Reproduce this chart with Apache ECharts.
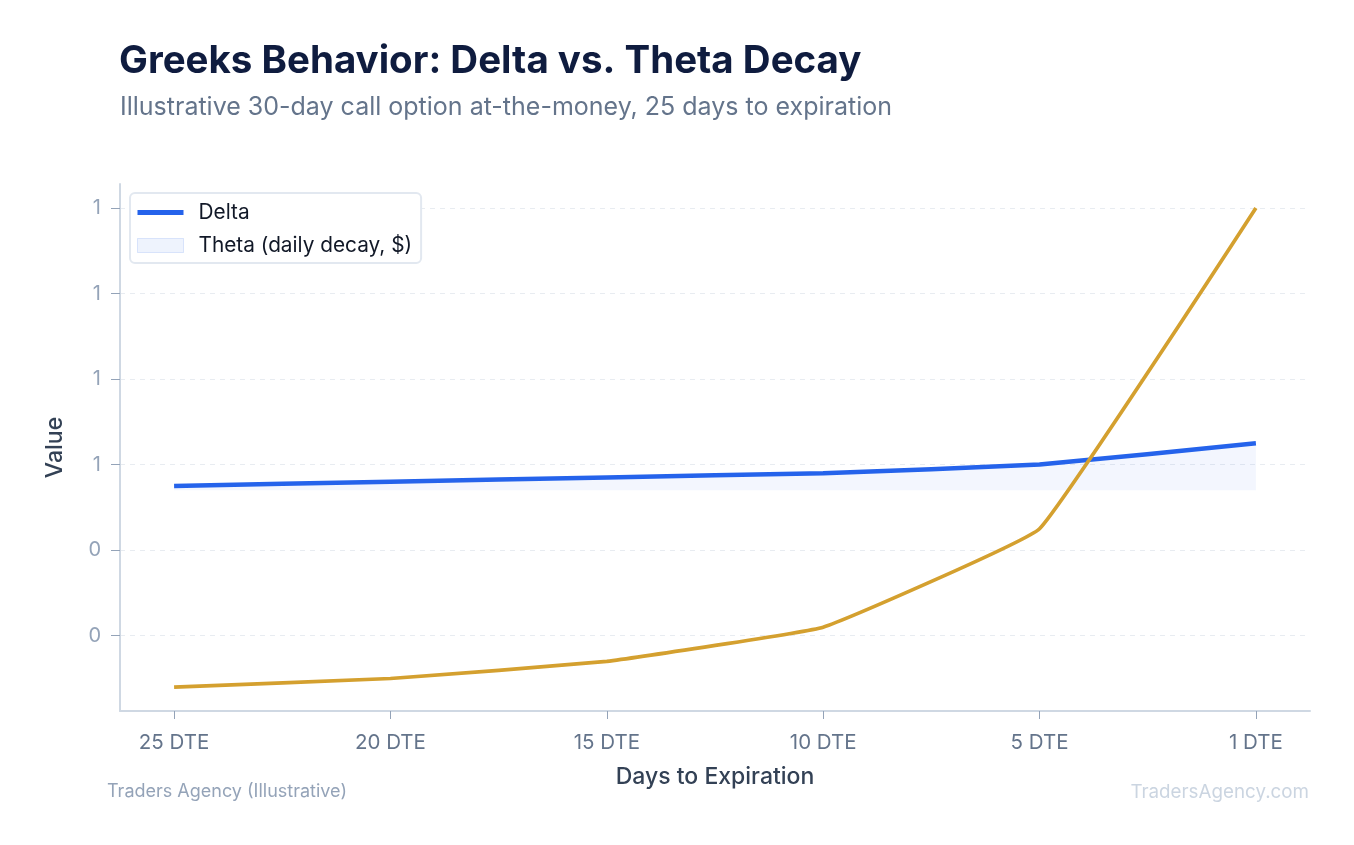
<!DOCTYPE html>
<html>
<head>
<meta charset="utf-8">
<script src="https://cdn.jsdelivr.net/npm/echarts@6/dist/echarts.min.js"></script>
<style>
html,body{margin:0;padding:0;background:#fff;}
#chart{width:1354px;height:845px;}
</style>
</head>
<body>
<div id="chart"></div>
<script>
const categories = ['25 DTE', '20 DTE', '15 DTE', '10 DTE', '5 DTE', '1 DTE'];
const deltaValues = [0.55, 0.56, 0.57, 0.58, 0.60, 0.65];
const thetaValues = [0.08, 0.10, 0.14, 0.22, 0.45, 1.20];
const yTickValues = [0.2, 0.4, 0.6, 0.8, 1.0, 1.2];
const yMin = 0.024;
const yMax = 1.256;
const deltaFillBase = 0.54;

const chart = echarts.init(document.getElementById('chart'));
const xIdx = categories.map((c, i) => i);
const FONT = 'Inter';

chart.setOption({
  animation: false,
  backgroundColor: '#ffffff',
  textStyle: { fontFamily: FONT },
  title: [
    { text: 'Greeks Behavior: Delta vs. Theta Decay', left: 114, top: 37,
      textStyle: { fontFamily: FONT, fontSize: 38.5, fontWeight: 700, color: '#0f1c3f' } },
    { text: 'Illustrative 30-day call option at-the-money, 25 days to expiration', left: 115, top: 90,
      textStyle: { fontFamily: FONT, fontSize: 25, fontWeight: 400, color: '#64748b' } },
    { text: 'Traders Agency (Illustrative)', left: 102, top: 778,
      textStyle: { fontFamily: FONT, fontSize: 18, fontWeight: 400, color: '#94a3b8' } },
    { text: 'TradersAgency.com', right: 40, top: 778,
      textStyle: { fontFamily: FONT, fontSize: 18.8, fontWeight: 400, color: '#cbd5e1' } }
  ],
  legend: {
    orient: 'vertical',
    left: 130, top: 193,
    padding: [9, 9, 7, 7],
    itemGap: 12,
    itemWidth: 46, itemHeight: 14,
    backgroundColor: '#ffffff',
    borderColor: '#e2e8f0', borderWidth: 2, borderRadius: 5,
    textStyle: { fontFamily: FONT, fontSize: 20.8, color: '#111827', padding: [0, 0, 0, 10] },
    data: [
      { name: 'Delta',
        icon: 'path://M0,0L46,0L46,0ZM0,4.5L46,4.5L46,9.5L0,9.5ZM0,14L46,14L46,14Z',
        itemStyle: { color: '#2563eb', borderWidth: 0, borderColor: 'transparent' } },
      { name: 'Theta (daily decay, $)', icon: 'rect',
        itemStyle: { color: 'rgba(37,99,235,0.08)', borderColor: 'rgba(37,99,235,0.14)', borderWidth: 1 } }
    ]
  },
  grid: { left: 120, right: 44, top: 184, bottom: 134, containLabel: false },
  xAxis: {
    type: 'value',
    min: -0.25, max: categories.length - 0.75,
    name: 'Days to Expiration', nameLocation: 'middle', nameGap: 55,
    nameTextStyle: { fontFamily: FONT, fontSize: 23, fontWeight: 500, color: '#334155' },
    axisLine: { show: true, onZero: false, lineStyle: { color: '#cfd8e3', width: 2 } },
    axisTick: { show: true, length: 8, lineStyle: { color: '#94a3b8', width: 1 }, customValues: xIdx },
    axisLabel: { margin: 21, fontSize: 20.5, color: '#64748b', fontFamily: FONT, customValues: xIdx,
      formatter: v => categories[Math.round(v)] },
    splitLine: { show: false }
  },
  yAxis: {
    type: 'value',
    min: yMin, max: yMax,
    name: 'Value', nameLocation: 'middle', nameGap: 53, nameRotate: 90,
    nameTextStyle: { fontFamily: FONT, fontSize: 23, fontWeight: 500, color: '#334155' },
    axisLine: { show: true, onZero: false, lineStyle: { color: '#cfd8e3', width: 2 } },
    axisTick: { show: true, length: 9, lineStyle: { color: '#94a3b8', width: 1 }, customValues: yTickValues },
    axisLabel: { margin: 19, fontSize: 20, color: '#94a3b8', fontFamily: FONT, customValues: yTickValues,
      formatter: v => v.toFixed(0) },
    splitLine: { show: true, lineStyle: { color: '#e8ecf1', width: 1, type: [5, 5] } }
  },
  series: [
    {
      name: 'Delta', type: 'line',
      data: deltaValues.map((v, i) => [i, v]),
      symbol: 'none', smooth: 0.08,
      lineStyle: { color: '#2563eb', width: 4.5 },
      itemStyle: { color: '#2563eb' },
      areaStyle: { color: 'rgba(37,99,235,0.08)', origin: deltaFillBase },
      z: 3
    },
    {
      name: 'Theta (daily decay, $)', type: 'line',
      data: thetaValues.map((v, i) => [i, v]),
      symbol: 'none', smooth: 0.08,
      lineStyle: { color: '#d4a02f', width: 3.7 },
      itemStyle: { color: '#d4a02f' },
      z: 4
    }
  ]
});
</script>
</body>
</html>
